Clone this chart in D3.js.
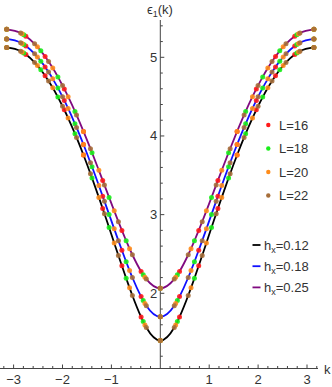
<!DOCTYPE html>
<html><head><meta charset="utf-8">
<script src="https://cdn.jsdelivr.net/npm/d3@7"></script>
<style>
body{margin:0;background:#fff}
svg{display:block}
text{font-family:"Liberation Sans",Arial,sans-serif;font-size:13px;fill:#333}
</style>
</head><body>
<svg id="chart" width="332" height="387"></svg>
<script>
// ---- data ----
const sizeLabels = ["L=16", "L=18", "L=20", "L=22"];
const sizeColors = ["#ff1a1a", "#1aee1a", "#ff8c1a", "#a66e3a"];
const fieldLabels = ["0.12", "0.18", "0.25"];
const fieldColors = ["#000000", "#1010ff", "#800a80"];

// momenta k >= 0 for each system size (mirrored to k < 0)
const kL16 = [0, 0.3927, 0.7854, 1.1781, 1.5708, 1.9635, 2.3562, 2.7489, 3.1416];
const kL18 = [0, 0.3491, 0.6981, 1.0472, 1.3963, 1.7453, 2.0944, 2.4435, 2.7925, 3.1416];
const kL20 = [0, 0.3142, 0.6283, 0.9425, 1.2566, 1.5708, 1.8850, 2.1991, 2.5133, 2.8274, 3.1416];
const kL22 = [0, 0.2856, 0.5712, 0.8568, 1.1424, 1.4280, 1.7136, 1.9992, 2.2848, 2.5704, 2.8560, 3.1416];

// hx = 0.12
const h012_L16 = [1.400, 1.699, 2.350, 3.077, 3.758, 4.333, 4.766, 5.035, 5.126];
const h012_L18 = [1.400, 1.641, 2.192, 2.836, 3.465, 4.029, 4.494, 4.841, 5.054, 5.126];
const h012_L20 = [1.400, 1.598, 2.069, 2.640, 3.219, 3.758, 4.228, 4.612, 4.895, 5.068, 5.126];
const h012_L22 = [1.400, 1.566, 1.972, 2.481, 3.011, 3.520, 3.981, 4.378, 4.699, 4.935, 5.078, 5.126];
// hx = 0.18
const h018_L16 = [1.703, 1.958, 2.547, 3.234, 3.891, 4.452, 4.878, 5.143, 5.233];
const h018_L18 = [1.703, 1.907, 2.401, 3.003, 3.608, 4.155, 4.611, 4.951, 5.162, 5.233];
const h018_L20 = [1.703, 1.871, 2.289, 2.819, 3.370, 3.891, 4.350, 4.726, 5.004, 5.175, 5.233];
const h018_L22 = [1.703, 1.843, 2.201, 2.669, 3.171, 3.660, 4.109, 4.497, 4.812, 5.044, 5.185, 5.233];
// hx = 0.25
const h025_L16 = [2.064, 2.278, 2.799, 3.435, 4.058, 4.598, 5.010, 5.268, 5.355];
const h025_L18 = [2.064, 2.235, 2.668, 3.219, 3.788, 4.312, 4.751, 5.082, 5.286, 5.355];
const h025_L20 = [2.064, 2.204, 2.567, 3.048, 3.563, 4.058, 4.499, 4.863, 5.133, 5.299, 5.355];
const h025_L22 = [2.064, 2.181, 2.490, 2.911, 3.376, 3.838, 4.267, 4.641, 4.946, 5.171, 5.309, 5.355];

const xTicks = [-3, -2, -1, 1, 2, 3];
const yTicks = [2, 3, 4, 5];

// ---- assemble ----
const kSets = [kL16, kL18, kL20, kL22];
const fieldData = [
  [h012_L16, h012_L18, h012_L20, h012_L22],
  [h018_L16, h018_L18, h018_L20, h018_L22],
  [h025_L16, h025_L18, h025_L20, h025_L22]
];
function mirrored(ks, vs) {
  const pts = [];
  ks.forEach((k, i) => { pts.push({k: k, v: vs[i]}); if (k > 0) pts.push({k: -k, v: vs[i]}); });
  return pts.sort((a, b) => a.k - b.k);
}

const svg = d3.select("#chart");
const x = d3.scaleLinear().domain([-3, 3]).range([13.6, 307.0]);
const y = d3.scaleLinear().domain([2, 5]).range([293.3, 57.3]);
const xAxisY = y(1.044);
const yTop = y(5.474);

// axes
const ax = svg.append("g").attr("stroke", "#444").attr("stroke-width", 1);
ax.append("line").attr("x1", 0).attr("x2", 318).attr("y1", xAxisY).attr("y2", xAxisY);
ax.append("line").attr("x1", x(0)).attr("x2", x(0)).attr("y1", yTop).attr("y2", xAxisY);

const xMinor = d3.range(-16, 17).map(i => i / 5).filter(v => Math.abs(v - Math.round(v)) > 1e-6);
const yMinor = d3.range(6, 28).map(i => i / 5).filter(v => Math.abs(v - Math.round(v)) > 1e-6);
xTicks.forEach(t => ax.append("line").attr("x1", x(t)).attr("x2", x(t)).attr("y1", xAxisY).attr("y2", xAxisY - 4));
xMinor.forEach(t => ax.append("line").attr("x1", x(t)).attr("x2", x(t)).attr("y1", xAxisY).attr("y2", xAxisY - 2.5));
yTicks.forEach(t => ax.append("line").attr("x1", x(0)).attr("x2", x(0) + 4).attr("y1", y(t)).attr("y2", y(t)));
yMinor.forEach(t => ax.append("line").attr("x1", x(0)).attr("x2", x(0) + 2.5).attr("y1", y(t)).attr("y2", y(t)));

xTicks.forEach(t => svg.append("text").attr("x", x(t)).attr("y", 384).attr("text-anchor", "middle")
  .text(t < 0 ? "\u2212" + Math.abs(t) : String(t)));
yTicks.forEach(t => svg.append("text").attr("x", x(0) - 3).attr("y", y(t) + 4.5).attr("text-anchor", "end").text(String(t)));

svg.append("text").attr("x", 324).attr("y", 374).text("k");
const yl = svg.append("text").attr("x", 147).attr("y", 14);
yl.append("tspan").text("\u03f5");
yl.append("tspan").attr("font-size", "9px").attr("dy", 3).text("1");
yl.append("tspan").attr("dy", -3).text("(k)");

// curves through the data
const line = d3.line().x(d => x(d.k)).y(d => y(d.v)).curve(d3.curveMonotoneX);
fieldData.forEach((sets, fi) => {
  let pts = [];
  sets.forEach((vs, si) => { pts = pts.concat(mirrored(kSets[si], vs)); });
  pts.sort((a, b) => a.k - b.k);
  const uniq = pts.filter((p, i) => i === 0 || Math.abs(p.k - pts[i - 1].k) > 1e-6);
  svg.append("path").datum(uniq).attr("d", line).attr("fill", "none")
    .attr("stroke", fieldColors[fi]).attr("stroke-width", 1.8);
});

// dots
sizeLabels.forEach((lab, si) => {
  fieldData.forEach(sets => {
    svg.append("g").selectAll("circle").data(mirrored(kSets[si], sets[si])).join("circle")
      .attr("cx", d => x(d.k)).attr("cy", d => y(d.v)).attr("r", 2.5)
      .attr("fill", sizeColors[si]).attr("fill-opacity", 0.9);
  });
});

// legends
sizeLabels.forEach((lab, i) => {
  const ly = 125 + i * 23.5;
  svg.append("circle").attr("cx", 268.3).attr("cy", ly).attr("r", 2.2).attr("fill", sizeColors[i]);
  svg.append("text").attr("x", 279).attr("y", ly + 4.5).text(lab);
});
fieldLabels.forEach((lab, i) => {
  const ly = 245 + i * 21.2;
  svg.append("line").attr("x1", 252.5).attr("x2", 260.5).attr("y1", ly).attr("y2", ly)
    .attr("stroke", fieldColors[i]).attr("stroke-width", 1.8);
  const t = svg.append("text").attr("x", 264).attr("y", ly + 4.5);
  t.append("tspan").text("h");
  t.append("tspan").attr("font-size", "9px").attr("dy", 3).text("x");
  t.append("tspan").attr("dy", -3).text("=" + lab);
});
</script>
</body></html>
